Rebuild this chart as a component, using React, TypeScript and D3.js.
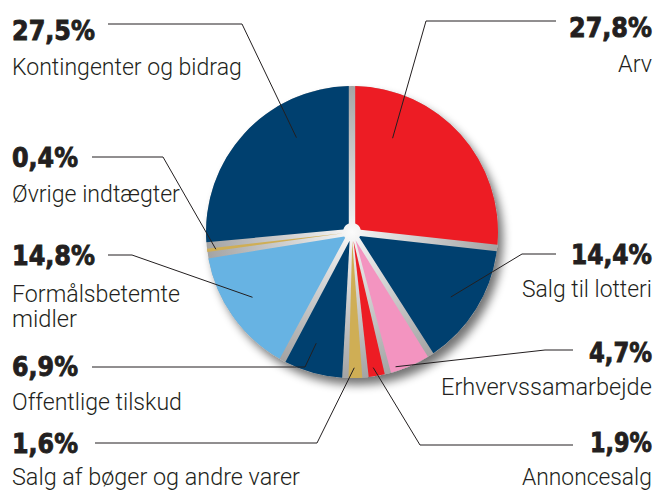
import React, { useLayoutEffect, useRef } from 'react';
import * as d3 from 'd3';

// ---- data ----
const categories = [
  'Arv',
  'Salg til lotteri',
  'Erhvervssamarbejde',
  'Annoncesalg',
  'Salg af bøger og andre varer',
  'Offentlige tilskud',
  'Formålsbetemte midler',
  'Øvrige indtægter',
  'Kontingenter og bidrag',
];
const values = [27.8, 14.4, 4.7, 1.9, 1.6, 6.9, 14.8, 0.4, 27.5];
const categoryLines = [
  ['Arv'],
  ['Salg til lotteri'],
  ['Erhvervssamarbejde'],
  ['Annoncesalg'],
  ['Salg af bøger og andre varer'],
  ['Offentlige tilskud'],
  ['Formålsbetemte', 'midler'],
  ['Øvrige indtægter'],
  ['Kontingenter og bidrag'],
];

// ---- styles / layout ----
const sliceColors = ['#ed1c24', '#00406f', '#f394c0', '#ed1c24', '#cfae55', '#00406f', '#67b3e3', '#cfae55', '#00406f'];

type Lay = {
  side: 'left' | 'right';
  pctY: number;
  catY: number[];
  lineY: number;
  lineX0: number;
  kneeX: number;
  f: number;
  rf: number;
  pctW: number;
  catW: number[];
};

const layout: Lay[] = [
  { side: 'right', pctY: 37, catY: [72], lineY: 21, lineX0: 556, kneeX: 426, f: 0.243, rf: 0.70, pctW: 83, catW: [34] },
  { side: 'right', pctY: 264, catY: [297], lineY: 254, lineX0: 556, kneeX: 522, f: 0.53, rf: 0.81, pctW: 81, catW: [130] },
  { side: 'right', pctY: 362, catY: [395], lineY: 350, lineX0: 573, kneeX: 545, f: 0.8, rf: 0.97, pctW: 63, catW: [211] },
  { side: 'right', pctY: 452, catY: [485], lineY: 445, lineX0: 573, kneeX: 420, f: 0.6, rf: 0.94, pctW: 62, catW: [130] },
  { side: 'left', pctY: 453, catY: [485], lineY: 443, lineX0: 95, kneeX: 317, f: 0.55, rf: 0.93, pctW: 66, catW: [288] },
  { side: 'left', pctY: 376, catY: [410], lineY: 367, lineX0: 92, kneeX: 305, f: 0.59, rf: 0.8, pctW: 66, catW: [170] },
  { side: 'left', pctY: 265, catY: [302, 327], lineY: 255, lineX0: 108, kneeX: 132, f: 0.54, rf: 0.815, pctW: 83, catW: [168, 65] },
  { side: 'left', pctY: 167, catY: [202], lineY: 157, lineX0: 92, kneeX: 163, f: 0.5, rf: 0.94, pctW: 66, catW: [168] },
  { side: 'left', pctY: 40, catY: [75], lineY: 24, lineX0: 108, kneeX: 242, f: 0.68, rf: 0.75, pctW: 83, catW: [230] },
];

const W = 658;
const H = 491;
const cx = 352;
const cy = 232;
const R = 146;
const R0 = 9;
const textColor = '#231f20';
const rightX = 652;
const leftX = 12;

const fmt = (v: number) => d3.format('.1f')(v).replace('.', ',') + '%';

// Text that is horizontally scaled so that its rendered width equals `width`
function FitText(props: {
  x: number;
  y: number;
  width: number;
  anchor: 'start' | 'end';
  children: string;
  style: Record<string, any>;
}) {
  const ref = useRef<SVGTextElement>(null);
  useLayoutEffect(() => {
    const el = ref.current;
    if (!el) return;
    const natural = el.getComputedTextLength() || props.width;
    const sx = props.width / natural;
    const x0 = props.anchor === 'start' ? props.x : props.x - props.width;
    d3.select(el).attr('transform', `translate(${x0},${props.y}) scale(${sx},1)`).attr('visibility', 'visible');
  });
  return (
    <text ref={ref} x={0} y={0} visibility="hidden" {...props.style}>
      {props.children}
    </text>
  );
}

const pctStyle = {
  fontFamily: "'DejaVu Sans', sans-serif",
  fontWeight: 700,
  fontSize: 26,
  fill: textColor,
  stroke: textColor,
  strokeWidth: 0.9,
};
const catStyle = {
  fontFamily: 'Roboto, sans-serif',
  fontWeight: 300,
  fontSize: 23,
  fill: textColor,
};

export default function App() {
  const pie = d3
    .pie<number>()
    .sort(null)
    .value((d) => d)
    .padAngle(0.044);
  const arcs = pie(values);
  const arc = d3.arc<d3.PieArcDatum<number>>().innerRadius(R0).outerRadius(R).padRadius(R);

  return (
    <svg width={W} height={H} viewBox={`0 0 ${W} ${H}`} style={{ display: 'block', position: 'absolute', left: 0, top: 0, background: '#fff' }}>
      <defs>
        <radialGradient id="bgGrad" cx="50%" cy="50%" r="50%">
          <stop offset="0%" stopColor="#fbfbfb" />
          <stop offset="12%" stopColor="#ececec" />
          <stop offset="50%" stopColor="#cccccc" />
          <stop offset="100%" stopColor="#a4a4a4" />
        </radialGradient>
        <filter id="shadow" x="-20%" y="-20%" width="145%" height="145%">
          <feGaussianBlur in="SourceAlpha" stdDeviation="5" />
          <feOffset dx="5" dy="7" result="ob" />
          <feComponentTransfer>
            <feFuncA type="linear" slope="0.55" />
          </feComponentTransfer>
          <feMerge>
            <feMergeNode />
            <feMergeNode in="SourceGraphic" />
          </feMerge>
        </filter>
      </defs>
      <rect x={0} y={0} width={W} height={H} fill="#fff" />
      <g transform={`translate(${cx},${cy})`}>
        <circle r={R} fill="url(#bgGrad)" filter="url(#shadow)" />
        {arcs.map((a, i) => (
          <path key={categories[i]} d={arc(a) || ''} fill={sliceColors[i]} />
        ))}
      </g>
      {arcs.map((a, i) => {
        const L = layout[i];
        const ang = a.startAngle + L.f * (a.endAngle - a.startAngle);
        const r = L.rf * R;
        const px = cx + r * Math.sin(ang);
        const py = cy - r * Math.cos(ang);
        return (
          <polyline
            key={'l' + i}
            points={`${L.lineX0},${L.lineY} ${L.kneeX},${L.lineY} ${px},${py}`}
            fill="none"
            stroke={textColor}
            strokeWidth={1}
          />
        );
      })}
      {values.map((v, i) => {
        const L = layout[i];
        const x = L.side === 'left' ? leftX : rightX;
        const anchor = L.side === 'left' ? 'start' : 'end';
        return (
          <g key={'t' + i}>
            <FitText x={x} y={L.pctY} width={L.pctW} anchor={anchor} style={pctStyle}>
              {fmt(v)}
            </FitText>
            {categoryLines[i].map((line, j) => (
              <FitText key={j} x={x} y={L.catY[j]} width={L.catW[j]} anchor={anchor} style={catStyle}>
                {line}
              </FitText>
            ))}
          </g>
        );
      })}
    </svg>
  );
}
